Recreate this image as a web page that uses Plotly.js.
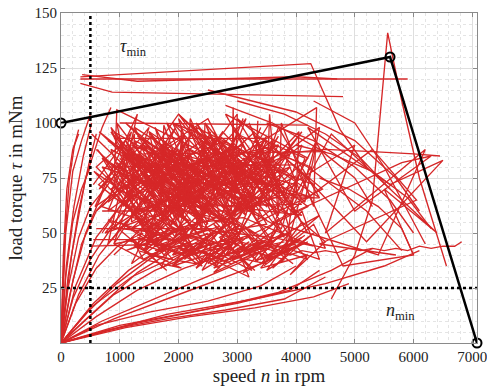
<!DOCTYPE html>
<html><head><meta charset="utf-8">
<script src="https://cdn.plot.ly/plotly-3.0.1.min.js"></script>
<style>html,body{margin:0;padding:0;background:#fff}#chart{width:487px;height:390px}</style>
</head><body><div id="chart"></div>
<script>
// Envelope (black) and limits
const envX = [0, 5600, 7080];
const envY = [100, 130, 0];
const nMin = 500;
const tauMin = 25;
const xTicks = [0,1000,2000,3000,4000,5000,6000,7000];
const yTicks = [25,50,75,100,125,150];

// Trajectories fanning out of the origin
const fanX = [0,120,300,480,600,null, 0,90,220,380,520,null, 0,200,420,700,950,null, 0,300,650,1100,1500,null, 0,450,950,1500,2100,null, 0,700,1500,2300,3000,3600,null, 0,1000,2000,3000,3900,4400,null, 0,1100,2200,3300,4300,4900,null, 0,350,800,1300,1900,2500,null, 0,550,1150,1900,2700,null, 0,150,350,600,900,null, 0,1300,2600,3700,4600,5300,null, 0,60,140,230,300,null, 0,1800,3300,4500,5500,6100,null, 0,250,600,1000,1400,null, 0,80,200,350,500,null, 0,400,900,1600,2400,3200,null, 0,900,1800,2700,3500,4100,null, 0,180,420,700,850,null, 0,600,1300,2100,2900,3800,null, 0,80,200,350,500,null, 0,120,300,500,800,null, 0,250,600,1000,1400,null, 0,40,100,200,300,null, 0,600,1500,2500,3400,4000,null, 0,800,1800,2800,3800,4500,null, 0,200,500,850,1200,null, 0,500,1200,2000,2800];
const fanY = [0,30,60,82,95,null, 0,35,62,85,100,null, 0,28,50,68,78,null, 0,22,40,55,63,null, 0,14,27,38,47,null, 0,10,19,28,36,44,null, 0,8,13,18,24,33,null, 0,7,12,16,21,27,null, 0,9,20,32,42,50,null, 0,18,33,46,53,null, 0,22,45,60,67,null, 0,9,16,23,33,43,null, 0,45,74,90,97,null, 0,13,20,27,35,42,null, 0,26,48,62,70,null, 0,50,78,92,104,null, 0,10,22,33,42,48,null, 0,11,20,29,37,45,null, 0,40,75,98,107,null, 0,12,24,34,41,46,null, 0,30,55,70,80,null, 0,25,48,62,72,null, 0,18,34,45,50,null, 0,40,70,88,95,null, 0,8,14,19,26,35,null, 0,6,11,15,20,30,null, 0,20,38,52,58,null, 0,16,30,40,47];

// Dense central trajectories
const clusterAX = [600,1400,900,2100,1700,2600,1200,3000,2200,3400,1800,2800,3900,2500,1500,3300,2000,4100,2900,1600,3600,2400,1100,2700,3800,2300,3100,1900,4300,2600,1300,3500,2050,950,2850,3700,1750,3150,2450,4000];
const clusterAY = [60,85,45,95,55,75,90,50,100,62,80,40,88,70,52,96,65,58,84,72,46,92,68,55,78,98,44,86,66,74,94,56,82,70,48,90,60,102,52,76];
const clusterBX = [800,2000,1300,2900,3500,2200,1000,2500,3200,1700,4000,2800,1400,3700,2100,3000,1200,2400,3600,1900,2700,4200,3300,1500,2600,3900,2000,1100,3100,2300,700,1800,3400,2750,1450,3850,2150,1250,2950,3550];
const clusterBY = [92,70,58,82,54,48,76,102,66,88,72,56,64,90,80,44,98,60,84,70,94,62,50,82,76,58,104,70,90,52,84,62,78,96,46,68,88,60,74,100];
const clusterCX = [1000,1600,1250,2300,1900,2750,2450,3250,2900,3650,3300,4150,3750,2650,3050,2150,2550,1850,2350,1450,1950,1050,1650,850,1350,2250,1750,2850,2350,3450,2950,3850,3350,4250,3550,2450,3150,2050,2700,3600];
const clusterCY = [84,66,92,78,100,86,62,80,56,74,94,84,52,68,88,74,96,58,82,70,98,62,76,88,54,66,92,60,86,72,98,64,90,80,46,94,58,84,68,62];
const clusterDX = [1300,1900,1600,2400,2100,2800,2600,3300,2900,3700,3400,4200,3900,4500,4100,3500,3800,3000,3200,2500,2700,2000,2300,1500,1800,1200,1400,900,2200,2900,3600,4300,3100,2400,1700,1000];
const clusterDY = [42,38,47,35,44,37,32,41,36,45,34,40,31,46,55,33,38,43,30,39,34,44,36,40,33,48,38,45,52,50,48,44,57,55,50,52];
const clusterEX = [550,1200,800,1900,1500,2600,2000,3300,2700,4000,3400,4400,3700,3000,3600,2400,3100,1800,2500,1300,2100,700,1600,1000,2300,1400,2900,2200,3500,2800,4200,3200,3900,2600,3300,1900,2700,1200,2000,650,1500,2400,1700,3000,2300,3800,3100,4300,3500,2900];
const clusterEY = [72,96,64,88,50,82,104,70,92,58,84,66,98,48,76,90,60,100,54,86,68,80,44,92,62,74,54,96,70,104,84,60,80,66,46,76,88,52,62,96,78,56,90,68,100,48,84,72,92,58];
const clusterFX = [700,1300,1050,1750,1500,2250,2000,2700,2450,3150,2900,3600,3350,4050,3800,4400,4150,3550,3950,3250,3700,2950,3450,2650,3100,2350,2800,2050,2550,1750,2250,1450,1950,1150,1650,850,1350,600,1100,1800,1400,2100,1700,2500,2200,2900,2600,3300,3000,3700];
const clusterFY = [50,74,88,66,96,72,52,84,100,62,78,92,56,70,86,98,64,82,46,76,94,58,88,72,102,54,80,90,60,74,96,66,50,84,70,98,60,80,92,56,42,70,86,64,50,78,96,58,84,68];
const clusterGX = [900,1600,1200,2000,1700,2500,2100,2900,2400,3200,2800,3700,3100,4000,3500,4400,3300,2600,3000,2300,2700,1900,2400,1500,2100,1100,1800,800,1500,2200,1900,2700,2300,3100,2600,3500,2900,3900,3400,4200];
const clusterGY = [40,58,36,52,34,48,38,55,33,46,37,52,32,44,38,58,42,36,50,34,46,40,56,38,52,42,48,56,40,46,35,42,36,48,34,44,38,50,36,46];
const clusterHX = [520,1100,650,1500,900,2000,580,1300,800,1800,1000,2400,700,1600,560,1200,950,2200,1400,2800,1150,600,1700,850,2500,1250,3200,1900,3600,2300,4100,2700,4450,3000,4200,3400,4000,3800,4350,3650];
const clusterHY = [95,80,70,98,52,88,62,104,45,76,90,58,84,48,78,66,100,56,42,92,74,88,60,96,44,86,64,100,82,38,96,46,70,102,50,88,74,40,92,56];
const clusterIX = [1100,1700,1400,2100,1900,2600,2300,3000,2700,3400,3100,3800,3500,4200,3900,4500,4300,3700,4100,3300,3600,2800,3200,2400,2900,2000,2500,1600,2200,1300,1800,1000,1500,2300,2000,2900,2600,3500,3200,4000];
const clusterIY = [47,42,52,45,40,50,43,48,39,46,41,50,44,38,47,43,54,41,48,37,45,40,49,42,36,46,52,44,39,48,43,55,46,41,50,44,38,47,42,45];
const clusterJX = [620,1500,1000,2200,700,1800,1300,2600,900,2000,1600,2900,1100,2400,750,1900,1450,2700,1200,2100,850,1700,2500,1050,2300,1350,2800,1650,3000,1250,2000,950,1850,640,1550,2450,1150,2150,780,1750,2650,1400,2350,1000,1950,2850,1500,2550,900,1800];
const clusterJY = [88,56,74,48,62,92,44,70,96,52,80,60,100,66,50,86,42,76,58,94,70,46,84,64,40,90,54,78,68,98,58,82,46,72,94,60,86,50,76,40,64,90,56,80,48,72,96,44,66,88];
const clusterKX = [2000,2600,2300,3100,2800,3500,3200,3900,3600,4300,4000,3400,3700,3000,3300,2700,3050,2500,2850,2200,2650,1900,2450,1600,2250,1400,2050,1250,1850,2400,2150,2950,2600,3350,3050,3750,3450,4150,3850,4400,4100,3550,3950,3150,3550,2750,3250,2350,2950,2050];
const clusterKY = [38,46,34,52,40,36,48,42,34,50,44,38,56,40,33,48,54,36,44,40,52,35,46,42,50,38,34,44,58,36,48,42,54,37,46,41,35,49,43,38,60,44,36,52,39,47,33,45,56,40];
const clusterLX = [1500,2200,1900,2800,2500,3300,3000,3700,3400,4100,3800,3200,3600,2900,3300,2600,3000,2300,2700,2000,2400,1700,2100,1400,1800,1100,1500,800,1200,1900,1600,2300,2000,2700,2400,3100,2800,3500,3200,3900,3500,3000,3400,2700,3100,2400,2800,2100,2500,1800];
const clusterLY = [70,86,62,78,96,68,84,58,76,90,66,100,72,88,60,80,94,64,78,102,70,88,56,82,68,92,74,60,86,72,98,64,80,58,90,74,66,94,78,86,62,74,98,56,82,70,88,64,92,76];
const streakX = [550,2100,null,500,1900,null,900,3500,null,1000,4200,null,800,4000,null,1400,4500,null,700,3200,null,1800,4100,null,1200,3800,null,600,2600,null,2000,4400];
const streakY = [47,47,null,44,45,null,93,93,null,100,99,null,80,81,null,86,87,null,60,60,null,62,63,null,73,72,null,52,52,null,66,66];
const spikeX = [2000,2050,2100,2200,2900,2930,2950,3000,1700,1750,2400,2450,3500,3550,3700,3750,4300,4350,1200,1250,900,950,4000,4050,3300,3350];
const spikeY = [55,98,60,102,60,107,62,104,58,99,52,100,66,104,58,100,62,107,55,95,70,106,66,96,75,101];

// Outer excursions
const outerAX = [330,4250,4750,5200,null,330,5900,null,330,870,4800,null,360,1300,4000,4700,null,2500,4000,5000,5700,6100,null,3000,4200,5200,5800,null,4300,5000,5500,5900,6200,null,4600,5000,5300,5560,5800,6100,6560];
const outerAY = [121,127,97,80,null,120,120,null,118,114,112,null,122,119,121,120,null,115,105,92,75,60,null,95,80,60,42,null,110,100,80,60,45,null,20,40,65,141,110,75,35];
const outerBX = [3800,5000,4500,6200,5400,3600,5800,6300,5000,4200,5600,6500,5200,4000,4800,6000,5500,6400,4600,3900,5300,6050,4400,5700];
const outerBY = [70,90,50,88,40,55,82,85,60,98,72,83,46,80,35,40,70,50,95,60,88,65,45,40];
const outerCX = [3000,3800,4500,5100,5600,null,3500,4300,5000,5600,6000,null,2800,3600,4400,5000,5300,null,4000,4600,5300,5900,6300,null,4400,4900,5400,5800,6000,null,3700,4500,5300,6000,6450];
const outerCY = [110,104,95,84,70,null,100,92,80,65,50,null,108,100,88,75,62,null,90,86,78,66,52,null,75,70,62,52,40,null,86,88,87,86,85];
const waveX = [3500,3700,3900,4100,4300,4500,4700,4900,5100,5300,5500,5700,5900,6100,6300,6500,6700,6820];
const waveY = [40,41,40,42,41,42,41,43,42,43,42,43,42,44,43,44,44,46];

const red = 'rgb(214,39,40)';
const redTrace = (x, y) => ({x: x, y: y, type: 'scatter', mode: 'lines', connectgaps: false,
  line: {color: red, width: 1.35}, hoverinfo: 'skip', showlegend: false});

const traces = [
  redTrace(fanX, fanY),
  redTrace(clusterAX, clusterAY),
  redTrace(clusterBX, clusterBY),
  redTrace(clusterCX, clusterCY),
  redTrace(clusterDX, clusterDY),
  redTrace(clusterEX, clusterEY),
  redTrace(clusterFX, clusterFY),
  redTrace(clusterGX, clusterGY),
  redTrace(clusterHX, clusterHY),
  redTrace(clusterIX, clusterIY),
  redTrace(clusterJX, clusterJY),
  redTrace(clusterKX, clusterKY),
  redTrace(clusterLX, clusterLY),
  redTrace(streakX, streakY),
  redTrace(spikeX, spikeY),
  redTrace(outerAX, outerAY),
  redTrace(outerBX, outerBY),
  redTrace(outerCX, outerCY),
  redTrace(waveX, waveY),
  {x: [nMin, nMin], y: [0, 150], type: 'scatter', mode: 'lines', line: {color: '#000', width: 2.5, dash: 'dot'}, showlegend: false},
  {x: [0, 7080], y: [tauMin, tauMin], type: 'scatter', mode: 'lines', line: {color: '#000', width: 2.5, dash: 'dot'}, showlegend: false},
  {x: envX, y: envY, type: 'scatter', mode: 'lines+markers', cliponaxis: false,
   line: {color: '#000', width: 2.5},
   marker: {symbol: 'circle-open', size: 9, color: '#000', line: {width: 2, color: '#000'}}, showlegend: false}
];

const font = {family: '"Liberation Serif", "DejaVu Serif", serif', color: '#222'};
const layout = {
  width: 487, height: 390,
  margin: {l: 60.5, r: 10.3, t: 13.3, b: 46.7},
  paper_bgcolor: '#fff', plot_bgcolor: '#fff',
  font: Object.assign({size: 15}, font),
  showlegend: false,
  xaxis: {range: [0, 7080], tickvals: xTicks, ticktext: xTicks.map(String),
    showgrid: true, gridcolor: '#dedede', gridwidth: 1,
    minor: {dtick: 200, showgrid: true, gridcolor: '#e4e4e4', griddash: 'dot', ticks: ''},
    showline: true, linecolor: '#8a8a8a', linewidth: 1, mirror: 'ticks',
    ticks: 'inside', ticklen: 4, tickcolor: '#8a8a8a', zeroline: false,
    ticklabeloverflow: 'allow',
    tickfont: Object.assign({size: 15}, font),
    title: {text: 'speed <i>n</i> in rpm', font: Object.assign({size: 19}, font), standoff: 4}},
  yaxis: {range: [0, 150], tickvals: yTicks, ticktext: yTicks.map(String),
    showgrid: true, gridcolor: '#dedede', gridwidth: 1,
    minor: {dtick: 5, showgrid: true, gridcolor: '#e4e4e4', griddash: 'dot', ticks: ''},
    showline: true, linecolor: '#8a8a8a', linewidth: 1, mirror: 'ticks',
    ticks: 'inside', ticklen: 4, tickcolor: '#8a8a8a', zeroline: false,
    tickfont: Object.assign({size: 15}, font),
    title: {text: 'load torque <i>τ</i> in mNm', font: Object.assign({size: 19}, font), standoff: 6}},
  annotations: [
    {x: 1230, y: 134.5, xref: 'x', yref: 'y', text: '<i>τ</i><sub>min</sub>', showarrow: false, font: Object.assign({size: 18}, font)},
    {x: 5770, y: 14.5, xref: 'x', yref: 'y', text: '<i>n</i><sub>min</sub>', showarrow: false, font: Object.assign({size: 18}, font)}
  ]
};
Plotly.newPlot('chart', traces, layout, {staticPlot: true, displayModeBar: false});
</script></body></html>
